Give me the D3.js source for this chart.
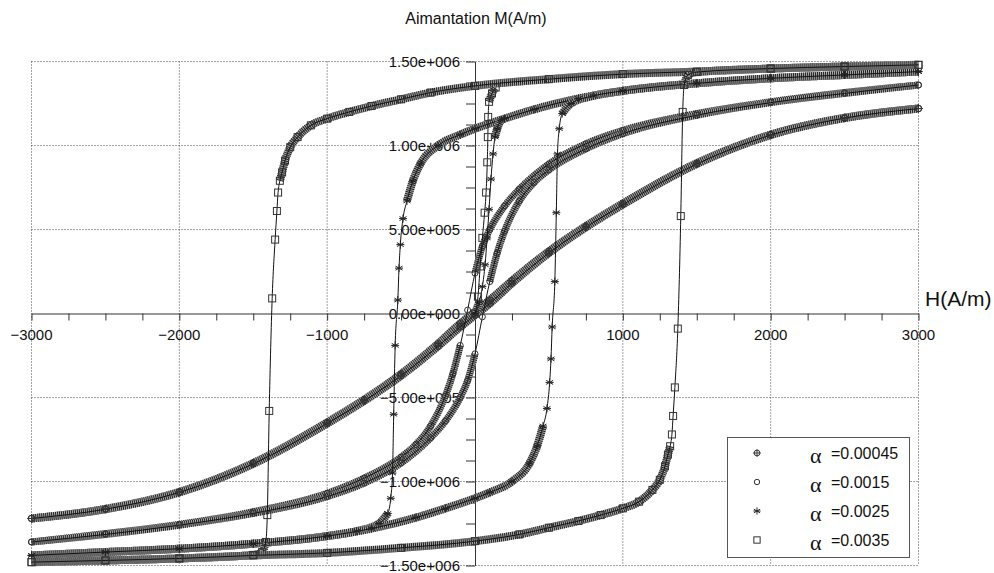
<!DOCTYPE html>
<html><head><meta charset="utf-8">
<script src="https://cdn.jsdelivr.net/npm/d3@7"></script>
<style>body{margin:0;background:#fff}svg{display:block}text{font-family:"Liberation Sans",Arial,sans-serif;fill:#111}</style>
</head><body><svg id="c" width="994" height="573"></svg>
<script>
// ---- data ----
const seriesLabels = ["=0.00045", "=0.0015", "=0.0025", "=0.0035"];
const xTickLabels = [-3000, -2000, -1000, 1000, 2000, 3000];
const yTickLabels = [-1.5e6, -1e6, -5e5, 0, 5e5, 1e6, 1.5e6];

// descending branches (H from +3000 to -3000); ascending branch is the point-symmetric image
const H_a00045 = [3000, 2500, 2000, 1500, 1000, 750, 500, 250, 100, 0, -100, -250, -500, -750, -1000, -1500, -2000, -2500, -3000];
const M_a00045 = [1.22e6, 1.165e6, 1.065e6, 0.895e6, 0.655e6, 0.52e6, 0.37e6, 0.195e6, 0.08e6, 0.01e6, -0.06e6, -0.18e6, -0.36e6, -0.513e6, -0.648e6, -0.89e6, -1.062e6, -1.163e6, -1.22e6];

const H_a0015 = [3000, 2500, 2000, 1500, 1000, 750, 500, 300, 200, 100, 50, 0, -50, -100, -150, -200, -300, -400, -500, -750, -1000, -1500, -2000, -2500, -3000];
const M_a0015 = [1.36e6, 1.315e6, 1.26e6, 1.19e6, 1.09e6, 1.01e6, 0.89e6, 0.74e6, 0.64e6, 0.50e6, 0.40e6, 0.24e6, 0.02e6, -0.19e6, -0.36e6, -0.49e6, -0.67e6, -0.78e6, -0.855e6, -0.98e6, -1.07e6, -1.18e6, -1.255e6, -1.31e6, -1.36e6];

const H_a0025 = [3000, 2500, 2000, 1500, 1000, 700, 400, 200, 0, -100, -250, -370, -420, -460, -487, -505, -514, -522, -540, -550, -558, -570, -590, -650, -800, -1000, -1500, -2000, -2500, -3000];
const M_a0025 = [1.44e6, 1.42e6, 1.40e6, 1.37e6, 1.325e6, 1.28e6, 1.215e6, 1.16e6, 1.10e6, 1.065e6, 1.0e6, 0.89e6, 0.79e6, 0.67e6, 0.565e6, 0.41e6, 0.27e6, 0.08e6, -0.19e6, -0.6e6, -0.95e6, -1.1e6, -1.19e6, -1.25e6, -1.295e6, -1.325e6, -1.37e6, -1.40e6, -1.42e6, -1.44e6];

const H_a0035 = [3000, 2500, 2000, 1500, 1000, 500, 0, -300, -500, -700, -850, -1000, -1110, -1200, -1250, -1285, -1305, -1320, -1332, -1340, -1352, -1372, -1392, -1405, -1415, -1440, -1500, -2000, -2500, -3000];
const M_a0035 = [1.48e6, 1.47e6, 1.458e6, 1.44e6, 1.425e6, 1.395e6, 1.355e6, 1.315e6, 1.275e6, 1.235e6, 1.2e6, 1.16e6, 1.12e6, 1.05e6, 0.99e6, 0.91e6, 0.84e6, 0.79e6, 0.72e6, 0.61e6, 0.44e6, 0.09e6, -0.58e6, -1.2e6, -1.36e6, -1.42e6, -1.437e6, -1.458e6, -1.47e6, -1.48e6];

// first-magnetisation curves
const H_init0025 = [0, 30, 50, 68, 82, 95, 108, 122, 135, 150, 175];
const M_init0025 = [0, 0.07e6, 0.16e6, 0.29e6, 0.45e6, 0.62e6, 0.8e6, 0.95e6, 1.05e6, 1.1e6, 1.15e6];
const H_init0035 = [0, 20, 35, 50, 65, 75, 83, 87, 89, 95, 115, 140];
const M_init0035 = [0, 0.1e6, 0.28e6, 0.45e6, 0.6e6, 0.72e6, 0.9e6, 1.05e6, 1.17e6, 1.26e6, 1.31e6, 1.345e6];

// ---- drawing ----
const svg = d3.select("#c");
const x = d3.scaleLinear().domain([-3000, 3000]).range([31.5, 918.5]);
const y = d3.scaleLinear().domain([-1.5e6, 1.5e6]).range([565.5, 61.5]);

// grid
const gGrid = svg.append("g").attr("stroke", "#444").attr("stroke-width", 1)
  .attr("stroke-dasharray", "1,2").attr("fill", "none");
xTickLabels.forEach(v => gGrid.append("line").attr("x1", x(v)).attr("x2", x(v)).attr("y1", y(1.5e6)).attr("y2", y(-1.5e6)));
yTickLabels.filter(v => v !== 0).forEach(v => gGrid.append("line").attr("x1", x(-3000)).attr("x2", x(3000)).attr("y1", y(v)).attr("y2", y(v)));

// axes through origin
const xAxis = svg.append("g").attr("transform", `translate(0,${y(0)})`)
  .call(d3.axisBottom(x).tickValues(d3.range(-3000, 3001, 250)).tickSize(7).tickSizeOuter(0).tickFormat(""));
const yAxis = svg.append("g").attr("transform", `translate(${x(0)},0)`)
  .call(d3.axisLeft(y).tickValues(d3.range(-1.5e6, 1.5e6 + 1, 125000)).tickSize(9).tickSizeOuter(0).tickFormat(""));
[xAxis, yAxis].forEach(g => { g.selectAll("path,line").attr("stroke", "#333"); });

// tick labels
const fmtY = v => {
  if (v === 0) return "0.00e+000";
  const e = Math.floor(Math.log10(Math.abs(v)));
  const m = (Math.abs(v) / Math.pow(10, e)).toFixed(2);
  return (v < 0 ? "\u2212" : "") + m + "e+" + String(e).padStart(3, "0");
};
svg.append("g").selectAll("text").data(xTickLabels).join("text")
  .attr("x", d => x(d)).attr("y", y(0) + 26).attr("text-anchor", "middle")
  .attr("font-size", 15).text(d => (d < 0 ? "\u2212" : "") + Math.abs(d));
svg.append("g").selectAll("text").data(yTickLabels).join("text")
  .attr("x", x(0) - 15).attr("y", d => y(d)).attr("dy", "0.36em").attr("text-anchor", "end")
  .attr("font-size", 15).text(fmtY);

// titles
svg.append("text").attr("x", 476).attr("y", 24).attr("text-anchor", "middle").attr("font-size", 16).text("Aimantation M(A/m)");
svg.append("text").attr("x", 925).attr("y", 306).attr("font-size", 21).text("H(A/m)");

// markers
function marker(g, type, cx, cy, s, fill) {
  const k = s || 1;
  const gg = g.append("g").attr("transform", `translate(${cx},${cy})`).attr("stroke", "#333").attr("stroke-width", 1).attr("fill", fill || "none");
  if (type === "crossCircle") {
    gg.append("circle").attr("r", 3.2 * k);
    gg.append("path").attr("d", `M${-4.2 * k},0H${4.2 * k}M0,${-4.2 * k}V${4.2 * k}`).attr("fill", "none");
  } else if (type === "circle") {
    gg.append("circle").attr("r", 3 * k);
  } else if (type === "asterisk") {
    const r = 4 * k, a = r * Math.cos(Math.PI / 6), b = r * 0.5;
    gg.append("path").attr("d", `M0,${-r}V${r}M${-a},${-b}L${a},${b}M${-a},${b}L${a},${-b}M${-r},0H${r}`).attr("fill", "none").attr("stroke", "#222");
  } else {
    gg.append("rect").attr("x", -3.5 * k).attr("y", -3.5 * k).attr("width", 7 * k).attr("height", 7 * k);
  }
}

const series = [
  { H: H_a00045, M: M_a00045, sym: "crossCircle", band: 8 },
  { H: H_a0015, M: M_a0015, sym: "circle", band: 7 },
  { H: H_a0025, M: M_a0025, sym: "asterisk", band: 8, initH: H_init0025, initM: M_init0025 },
  { H: H_a0035, M: M_a0035, sym: "square", band: 8, initH: H_init0035, initM: M_init0035 }
];

const line = d3.line().x(d => x(d[0])).y(d => y(d[1])).curve(d3.curveMonotoneX);
const gCurves = svg.append("g");

series.forEach(s => {
  const desc = s.H.map((h, i) => [h, s.M[i]]);
  const asc = desc.map(([h, m]) => [-h, -m]);
  const branches = [desc, asc];
  if (s.initH) branches.push(s.initH.map((h, i) => [h, s.initM[i]]));
  const g = gCurves.append("g");
  branches.forEach(b => {
    // dense-marker band where the curve is flat (uniform H sampling -> overlapping markers)
    let run = [];
    const runs = [];
    for (let i = 0; i < b.length - 1; i++) {
      const dx = Math.abs(x(b[i + 1][0]) - x(b[i][0])), dy = Math.abs(y(b[i + 1][1]) - y(b[i][1]));
      if (dy < 4 * dx) { if (!run.length) run.push(b[i]); run.push(b[i + 1]); }
      else { if (run.length) runs.push(run); run = []; }
    }
    if (run.length) runs.push(run);
    runs.forEach(r => {
      g.append("path").attr("d", line(r)).attr("fill", "none").attr("stroke", "#aaa")
        .attr("stroke-width", s.band);
      g.append("path").attr("d", line(r)).attr("fill", "none").attr("stroke", "#222")
        .attr("stroke-width", s.band).attr("stroke-dasharray", "1,1");
    });
    g.append("path").attr("d", line(b)).attr("fill", "none").attr("stroke", "#111").attr("stroke-width", 1);
  });
  branches.forEach(b => b.forEach(p => marker(g, s.sym, x(p[0]), y(p[1]))));
});

// legend
const lg = svg.append("g");
lg.append("rect").attr("x", 727.5).attr("y", 437.5).attr("width", 182).attr("height", 120)
  .attr("fill", "#fff").attr("stroke", "#555");
series.forEach((s, i) => {
  const ry = 453 + i * 29;
  marker(lg, s.sym, 757, ry, 0.9, "#fff");
  lg.append("text").attr("x", 810).attr("y", ry + 10).attr("font-size", 22)
    .style("font-family", "'Liberation Serif','DejaVu Serif',serif").text("\u03b1");
  lg.append("text").attr("x", 831).attr("y", ry + 6).attr("font-size", 16).text(seriesLabels[i]);
});
</script></body></html>
